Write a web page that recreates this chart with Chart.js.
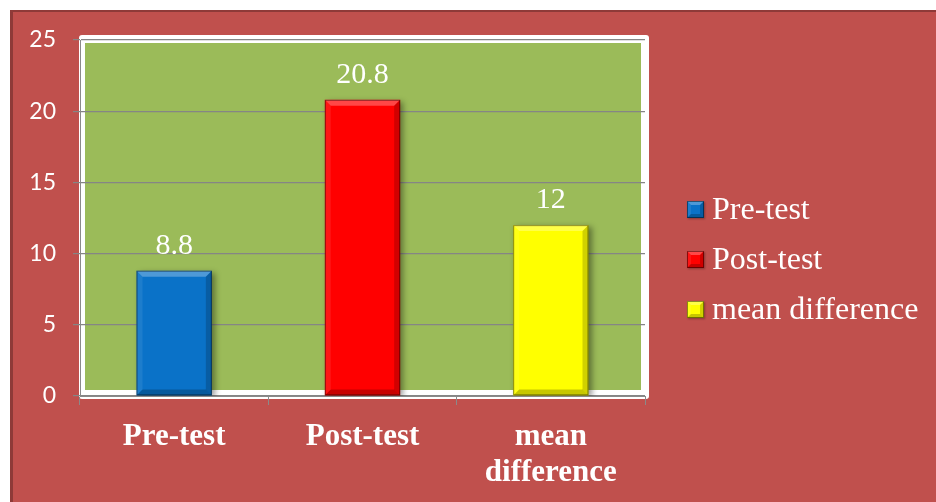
<!DOCTYPE html>
<html>
<head>
<meta charset="utf-8">
<script src="https://cdn.jsdelivr.net/npm/chart.js@4.4.0/dist/chart.umd.min.js"></script>
<style>
  html, body { margin: 0; padding: 0; background: #ffffff; }
  #wrap { width: 936px; height: 502px; }
</style>
</head>
<body>
<div id="wrap"><canvas id="mycanvas" width="936" height="502"></canvas></div>
<script>
// chart values
const categories = ["Pre-test", "Post-test", "mean difference"];
const tickLabels = [["Pre-test"], ["Post-test"], ["mean", "difference"]];
const scores = [8.8, 20.8, 12];
const valueLabels = ["8.8", "20.8", "12"];
const barColors = ["#0A72C8", "#FF0000", "#FFFF00"];

// page, frame and plot background
const backdrop = {
  id: "backdrop",
  beforeDraw(chart) {
    const ctx = chart.ctx;
    ctx.save();
    ctx.fillStyle = "#ffffff";
    ctx.fillRect(0, 0, chart.width, chart.height);
    ctx.fillStyle = "#8E3A38";
    ctx.fillRect(10, 10, chart.width - 10, chart.height - 10);
    ctx.fillStyle = "#C0504D";
    ctx.fillRect(13, 12, chart.width - 13, chart.height - 12);
    const a = chart.chartArea;
    // white frame round the plot
    ctx.fillStyle = "#ffffff";
    ctx.beginPath();
    ctx.roundRect(a.left - 1, a.top - 5, a.right - a.left + 5, a.bottom - a.top + 8, 3);
    ctx.fill();
    ctx.fillStyle = "#9BBB59";
    ctx.fillRect(a.left + 5, a.top + 3, a.right - a.left - 9, a.bottom - a.top - 9);
    ctx.restore();
  }
};

function bevel(ctx, l, t, r, b, d) {
  ctx.fillStyle = "rgba(255,255,255,0.28)";
  ctx.beginPath();
  ctx.moveTo(l, t); ctx.lineTo(r, t); ctx.lineTo(r - d, t + d); ctx.lineTo(l + d, t + d);
  ctx.closePath(); ctx.fill();
  ctx.fillStyle = "rgba(255,255,255,0.08)";
  ctx.beginPath();
  ctx.moveTo(l, t); ctx.lineTo(l + d, t + d); ctx.lineTo(l + d, b - d); ctx.lineTo(l, b);
  ctx.closePath(); ctx.fill();
  ctx.fillStyle = "rgba(0,0,0,0.18)";
  ctx.beginPath();
  ctx.moveTo(r, t); ctx.lineTo(r, b); ctx.lineTo(r - d, b - d); ctx.lineTo(r - d, t + d);
  ctx.closePath(); ctx.fill();
  ctx.fillStyle = "rgba(0,0,0,0.22)";
  ctx.beginPath();
  ctx.moveTo(l, b); ctx.lineTo(r, b); ctx.lineTo(r - d, b - d); ctx.lineTo(l + d, b - d);
  ctx.closePath(); ctx.fill();
  ctx.strokeStyle = "rgba(0,0,0,0.45)";
  ctx.lineWidth = 1;
  ctx.strokeRect(l + 0.5, t + 0.5, r - l - 1, b - t - 1);
}

// shadow, bevel and value labels on the bars
const barLook = {
  id: "barLook",
  beforeDatasetsDraw(chart) {
    const ctx = chart.ctx;
    ctx.save();
    ctx.shadowColor = "rgba(0,0,0,0.4)";
    ctx.shadowBlur = 6;
    ctx.shadowOffsetX = 3;
    ctx.shadowOffsetY = 2;
  },
  afterDatasetsDraw(chart) {
    const ctx = chart.ctx;
    ctx.restore();
    ctx.save();
    const meta = chart.getDatasetMeta(0);
    meta.data.forEach((bar, i) => {
      const w = bar.width;
      bevel(ctx, bar.x - w / 2, bar.y, bar.x + w / 2, bar.base, 6);
      ctx.fillStyle = "#ffffff";
      ctx.font = "30px 'Liberation Serif', serif";
      ctx.textAlign = "center";
      ctx.textBaseline = "alphabetic";
      ctx.fillText(valueLabels[i], bar.x, bar.y - 17);
    });
    ctx.restore();
  }
};

// legend on the right
const sideLegend = {
  id: "sideLegend",
  afterDraw(chart) {
    const ctx = chart.ctx;
    ctx.save();
    categories.forEach((name, i) => {
      const cy = 209 + i * 50;
      ctx.shadowColor = "rgba(0,0,0,0.3)";
      ctx.shadowBlur = 2;
      ctx.shadowOffsetX = 1;
      ctx.shadowOffsetY = 1;
      ctx.fillStyle = barColors[i];
      ctx.fillRect(687, cy - 8, 17, 17);
      ctx.shadowColor = "transparent";
      bevel(ctx, 687, cy - 8, 704, cy + 9, 4);
      ctx.fillStyle = "#ffffff";
      ctx.font = "32px 'Liberation Serif', serif";
      ctx.textAlign = "left";
      ctx.textBaseline = "alphabetic";
      ctx.fillText(name, 712, cy + 10);
    });
    ctx.restore();
  }
};

const ctx = document.getElementById("mycanvas").getContext("2d");
new Chart(ctx, {
  type: "bar",
  data: {
    labels: tickLabels,
    datasets: [{
      label: "score",
      data: scores,
      backgroundColor: barColors,
      borderWidth: 0,
      barPercentage: 0.4,
      categoryPercentage: 1.0
    }]
  },
  options: {
    responsive: false,
    animation: false,
    layout: { padding: { left: 10, top: 40, right: 291, bottom: 0 } },
    plugins: {
      legend: { display: false },
      tooltip: { enabled: false }
    },
    scales: {
      x: {
        offset: true,
        grid: { display: true, drawOnChartArea: false, drawTicks: true, tickLength: 9, color: "#8A8A8A" },
        border: { display: true, color: "#8A8A8A", width: 1 },
        ticks: {
          color: "#ffffff",
          font: { family: "'Liberation Serif'", size: 31, weight: "bold", lineHeight: 1.17 },
          padding: 14,
          maxRotation: 0,
          autoSkip: false
        },
        afterFit(s) { s.height = 106; }
      },
      y: {
        min: 0,
        max: 25,
        ticks: {
          stepSize: 5,
          color: "#ffffff",
          font: { family: "Lato", size: 23 },
          padding: 17
        },
        grid: { color: "#858585", tickLength: 7, lineWidth: 1.2 },
        border: { display: true, color: "#8A8A8A", width: 1 },
        afterFit(s) { s.width = 70; }
      }
    }
  },
  plugins: [backdrop, barLook, sideLegend]
});
</script>
</body>
</html>
